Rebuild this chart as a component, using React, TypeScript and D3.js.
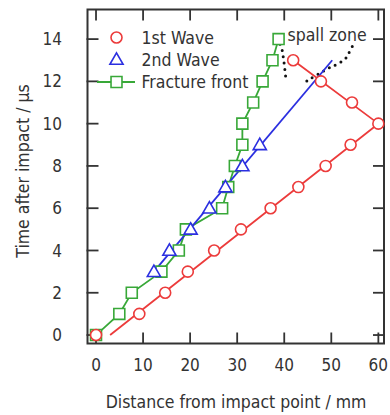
import React, { useRef, useEffect } from 'react'
import * as d3 from 'd3'

// time after impact (µs) and distance (mm)
const firstWaveT = [0, 1, 2, 3, 4, 5, 6, 7, 8, 9, 10, 11, 12, 13]
const firstWaveX = [0, 9.2, 14.7, 19.5, 25.1, 30.8, 37.1, 43.0, 48.8, 54.1, 60.0, 54.4, 47.8, 41.9]
const firstWaveFitT = [0, 10, 13]
const firstWaveFitX = [3.0, 60.0, 41.9]

const secondWaveT = [3, 4, 5, 6, 7, 8, 9]
const secondWaveX = [12.3, 15.6, 20.1, 24.1, 27.5, 31.1, 34.8]
const secondWaveFitT = [3, 13]
const secondWaveFitX = [12.3, 50.2]

const fractureT = [0, 1, 2, 3, 4, 5, 6, 7, 8, 9, 10, 11, 12, 13, 14]
const fractureX = [0, 4.95, 7.6, 13.9, 17.6, 19.1, 26.8, 28.1, 29.5, 31.1, 31.1, 33.4, 35.4, 37.5, 38.8]

const spallLeftT = [13.76, 13.44, 13.13, 12.81, 12.42, 12.02]
const spallLeftX = [39.1, 39.6, 39.8, 40.0, 40.2, 40.4]
const spallRightT = [12.02, 12.66, 12.81, 13.05, 13.29, 13.76]
const spallRightX = [44.8, 49.7, 51.2, 52.9, 53.6, 54.7]

const xTicks = [0, 10, 20, 30, 40, 50, 60]
const yTicks = [0, 2, 4, 6, 8, 10, 12, 14]
const legendLabels = ['1st Wave', '2nd Wave', 'Fracture front']

const RED = '#ec3b3b'
const BLUE = '#2b2fe0'
const GREEN = '#38a838'
const INK = '#333333'
const FONT = "'DejaVu Sans Condensed', 'DejaVu Sans', sans-serif"

type Pt = { x: number; t: number }
const zip = (xs: number[], ts: number[]): Pt[] => xs.map((x, i) => ({ x, t: ts[i] }))

export default function App() {
  const svgRef = useRef<SVGSVGElement>(null)
  const width = 390
  const height = 415

  useEffect(() => {
    if (!svgRef.current) return
    d3.select(svgRef.current).selectAll('*').remove()

    const left = 87.5
    const right = 384
    const top = 9.5
    const bottom = 343.5

    const x = d3.scaleLinear().domain([-1.81, 61.2]).range([left, right])
    const y = d3.scaleLinear().domain([-0.4, 15.4]).range([bottom, top])

    const svg = d3.select(svgRef.current).attr('width', width).attr('height', height)

    const line = d3
      .line<Pt>()
      .x(d => x(d.x))
      .y(d => y(d.t))

    // frame
    svg
      .append('rect')
      .attr('x', left)
      .attr('y', top)
      .attr('width', right - left)
      .attr('height', bottom - top)
      .attr('fill', 'none')
      .attr('stroke', INK)
      .attr('stroke-width', 2)

    // inward ticks on all four sides
    const tk = 11
    const ticks = svg.append('g').attr('stroke', INK).attr('stroke-width', 1.8)
    xTicks.forEach(v => {
      ticks.append('line').attr('x1', x(v)).attr('x2', x(v)).attr('y1', bottom).attr('y2', bottom - tk)
      ticks.append('line').attr('x1', x(v)).attr('x2', x(v)).attr('y1', top).attr('y2', top + tk)
    })
    yTicks.forEach(v => {
      ticks.append('line').attr('x1', left - 1).attr('x2', left + tk).attr('y1', y(v)).attr('y2', y(v))
      ticks.append('line').attr('x1', right).attr('x2', right - tk).attr('y1', y(v)).attr('y2', y(v))
    })

    // tick labels
    svg
      .append('g')
      .selectAll('text')
      .data(xTicks)
      .enter()
      .append('text')
      .attr('x', d => x(d))
      .attr('y', 371)
      .attr('text-anchor', 'middle')
      .style('font-family', FONT)
      .style('font-size', '17px')
      .style('fill', INK)
      .text(d => d)

    svg
      .append('g')
      .selectAll('text')
      .data(yTicks)
      .enter()
      .append('text')
      .attr('x', 62)
      .attr('y', d => y(d))
      .attr('dy', '0.36em')
      .attr('text-anchor', 'end')
      .style('font-family', FONT)
      .style('font-size', '17px')
      .style('fill', INK)
      .text(d => d)

    // axis titles
    svg
      .append('text')
      .attr('x', 236)
      .attr('y', 408)
      .attr('text-anchor', 'middle')
      .style('font-family', FONT)
      .style('font-size', '17.5px')
      .style('fill', INK)
      .text('Distance from impact point / mm')

    svg
      .append('text')
      .attr('transform', 'translate(28.5, 171) rotate(-90)')
      .attr('text-anchor', 'middle')
      .style('font-family', FONT)
      .style('font-size', '17.5px')
      .style('fill', INK)
      .text('Time after impact / µs')

    // spall zone dotted outlines
    ;[zip(spallLeftX, spallLeftT), zip(spallRightX, spallRightT)].forEach(pts => {
      svg
        .append('path')
        .datum(pts)
        .attr('d', line.curve(d3.curveCatmullRom))
        .attr('fill', 'none')
        .attr('stroke', '#111')
        .attr('stroke-width', 3)
        .attr('stroke-linecap', 'round')
        .attr('stroke-dasharray', '0 6.5')
    })
    line.curve(d3.curveLinear)

    svg
      .append('text')
      .attr('x', 287.5)
      .attr('y', 40.5)
      .style('font-family', FONT)
      .style('font-size', '17.5px')
      .style('fill', INK)
      .text('spall zone')

    // lines
    const drawLine = (pts: Pt[], color: string) =>
      svg
        .append('path')
        .datum(pts)
        .attr('d', line)
        .attr('fill', 'none')
        .attr('stroke', color)
        .attr('stroke-width', 1.8)

    drawLine(zip(fractureX, fractureT), GREEN)
    drawLine(zip(firstWaveFitX, firstWaveFitT), RED)
    drawLine(zip(secondWaveFitX, secondWaveFitT), BLUE)

    // markers
    const sq = d3.symbol().type(d3.symbolSquare).size(120)
    const tri = d3.symbol().type(d3.symbolTriangle).size(75)

    svg
      .append('g')
      .selectAll('path')
      .data(zip(fractureX, fractureT))
      .enter()
      .append('path')
      .attr('d', sq)
      .attr('transform', d => `translate(${x(d.x)},${y(d.t)})`)
      .attr('fill', 'white')
      .attr('stroke', GREEN)
      .attr('stroke-width', 1.6)

    svg
      .append('g')
      .selectAll('path')
      .data(zip(secondWaveX, secondWaveT))
      .enter()
      .append('path')
      .attr('d', tri)
      .attr('transform', d => `translate(${x(d.x)},${y(d.t) + 1})`)
      .attr('fill', 'white')
      .attr('stroke', BLUE)
      .attr('stroke-width', 1.6)

    svg
      .append('g')
      .selectAll('circle')
      .data(zip(firstWaveX, firstWaveT))
      .enter()
      .append('circle')
      .attr('cx', d => x(d.x))
      .attr('cy', d => y(d.t))
      .attr('r', 5.5)
      .attr('fill', 'white')
      .attr('stroke', RED)
      .attr('stroke-width', 1.6)

    // legend
    const lg = svg.append('g')
    const rows = [37.5, 59.5, 82]
    const mx = 116.5
    lg.append('circle')
      .attr('cx', mx)
      .attr('cy', rows[0])
      .attr('r', 5.5)
      .attr('fill', 'white')
      .attr('stroke', RED)
      .attr('stroke-width', 1.6)
    lg.append('path')
      .attr('d', tri)
      .attr('transform', `translate(${mx},${rows[1] + 1})`)
      .attr('fill', 'white')
      .attr('stroke', BLUE)
      .attr('stroke-width', 1.6)
    lg.append('line')
      .attr('x1', 97)
      .attr('x2', 135)
      .attr('y1', rows[2])
      .attr('y2', rows[2])
      .attr('stroke', GREEN)
      .attr('stroke-width', 1.8)
    lg.append('path')
      .attr('d', sq)
      .attr('transform', `translate(${mx},${rows[2]})`)
      .attr('fill', 'white')
      .attr('stroke', GREEN)
      .attr('stroke-width', 1.6)

    legendLabels.forEach((label, i) => {
      lg.append('text')
        .attr('x', 141.5)
        .attr('y', rows[i] + 6.3)
        .style('font-family', FONT)
        .style('font-size', '17.5px')
        .style('fill', INK)
        .text(label)
    })
  }, [])

  return (
    <div style={{ position: 'absolute', left: 0, top: 0, background: 'white' }}>
      <svg ref={svgRef} width={width} height={height} style={{ display: 'block' }} />
    </div>
  )
}
